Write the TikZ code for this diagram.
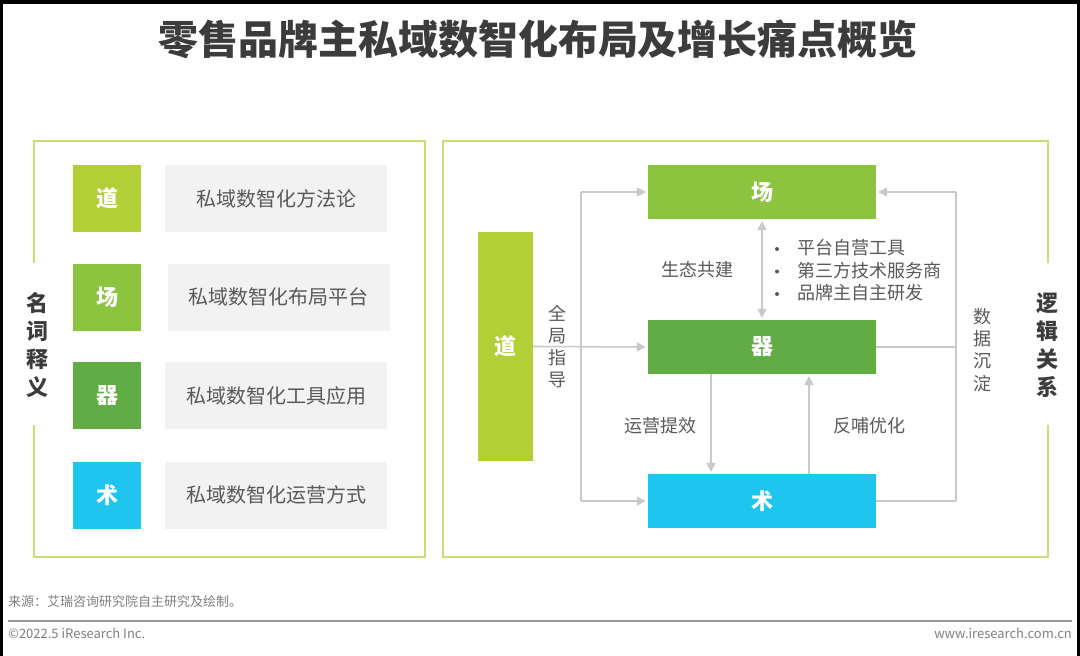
\documentclass[tikz,border=0pt]{standalone}
\usepackage{fontspec}
\setmainfont{Noto Sans CJK SC}
\usetikzlibrary{arrows.meta}
\definecolor{frameg}{HTML}{C8DE78}
\definecolor{daoc}{HTML}{B2CF37}
\definecolor{changc}{HTML}{8DC43F}
\definecolor{qic}{HTML}{62AC46}
\definecolor{shuc}{HTML}{1EC6EF}
\definecolor{boxg}{HTML}{F2F2F2}
\definecolor{txtg}{HTML}{595959}
\definecolor{lineg}{HTML}{C9C9C9}
\definecolor{titlec}{HTML}{3C3C3C}
\definecolor{footc}{HTML}{7F7F7F}
\tikzset{
  keybox/.style={inner sep=0pt, minimum width=68pt, minimum height=67pt, text=white, font=\fontsize{22}{22}\selectfont\bfseries},
  descbox/.style={inner sep=0pt, fill=boxg, minimum width=222pt, minimum height=67pt, text=txtg, font=\fontsize{20}{20}\selectfont},
  flowbox/.style={inner sep=0pt, minimum width=228pt, minimum height=54pt, text=white, font=\fontsize{22}{22}\selectfont\bfseries},
  panel/.style={draw=frameg, line width=2pt},
  conn/.style={draw=lineg, line width=1.6pt},
  arr/.style={conn, -{Triangle[length=9pt,width=9pt]}, shorten >=2pt},
  arrb/.style={conn, {Triangle[length=9pt,width=9pt]}-{Triangle[length=9pt,width=9pt]}, shorten >=2pt, shorten <=2pt},
  lbl/.style={text=txtg, font=\fontsize{18}{18}\selectfont, inner sep=0pt},
  bul/.style={circle, fill=txtg, inner sep=0pt, minimum size=4pt},
  vlbl/.style={text=txtg, font=\fontsize{18}{22.3}\selectfont, align=center, inner sep=0pt},
  side/.style={text=titlec, font=\fontsize{22}{28}\selectfont\bfseries, align=center, inner sep=0pt},
  foot/.style={text=footc, font=\fontsize{13}{13}\selectfont, inner sep=0pt}
}
\begin{document}
\begin{tikzpicture}[x=1pt,y=-1pt]
\useasboundingbox (0,0) rectangle (1080,656);
\fill[black] (0,0) rectangle (1080,656);
\fill[white] (3,4) rectangle (1077,656);
% title
\node[text=titlec, font=\fontsize{40}{40}\selectfont\bfseries, inner sep=0pt] (title) at (538,39) {零售品牌主私域数智化布局及增长痛点概览};
% left panel
\draw[panel] (34,263) -- (34,141) -- (425,141) -- (425,557) -- (34,557) -- (34,425);
\node[side] (mcsy) at (37,345) {名\\词\\释\\义};
\node[keybox, fill=daoc] (k1) at (107,198.5) {道};
\node[keybox, fill=changc] (k2) at (107,297) {场};
\node[keybox, fill=qic] (k3) at (107,395.5) {器};
\node[keybox, fill=shuc] (k4) at (107,495) {术};
\node[descbox] (d1) at (276,198.5) {私域数智化方法论};
\node[descbox] (d2) at (278.5,297) {私域数智化布局平台};
\node[descbox] (d3) at (276,395.5) {私域数智化工具应用};
\node[descbox] (d4) at (276,495) {私域数智化运营方式};
% right panel
\draw[panel] (1048,263) -- (1048,141) -- (443,141) -- (443,557) -- (1048,557) -- (1048,425);
\node[side] (ljgx) at (1047,345) {逻\\辑\\关\\系};
\node[inner sep=0pt, fill=daoc, minimum width=55pt, minimum height=229pt, text=white, font=\fontsize{22}{22}\selectfont\bfseries] (dao) at (505.5,346.5) {道};
\node[flowbox, fill=changc] (chang) at (762,192) {场};
\node[flowbox, fill=qic] (qi) at (762,347) {器};
\node[flowbox, fill=shuc] (shu) at (762,501) {术};
\coordinate (lt) at (581,192);
\coordinate (lb) at (581,501);
\coordinate (rt) at (956,192);
\coordinate (rb) at (956,501);
\draw[conn] (lb) -- (lt);
\draw[arr] (lt) -- (chang.west);
\draw[arr] (lb) -- (shu.west);
\draw[arr] (dao.east) -- (qi.west);
\draw[conn] (rb) -- (rt);
\draw[arr] (rt) -- (chang.east);
\draw[conn] (qi.east) -- (qi.east -| rt);
\draw[conn] (shu.east) -- (rb);
\draw[arrb] (chang.south) -- (qi.north);
\draw[arr] ([xshift=-51pt]qi.south) -- ([xshift=-51pt]shu.north);
\draw[arr] ([xshift=47pt]shu.north) -- ([xshift=47pt]qi.south);
\node[vlbl] (qjzd) at (557,346.5) {全\\局\\指\\导};
\node[vlbl] (sjcd) at (982,350) {数\\据\\沉\\淀};
\node[lbl] (stgj) at (697,270) {生态共建};
\node[bul] (b1) at (777,249) {};
\node[bul] (b2) at (777,271.5) {};
\node[bul] (b3) at (777,294) {};
\node[lbl, anchor=west] (t1) at (797,248) {平台自营工具};
\node[lbl, anchor=west] (t2) at (797,270.5) {第三方技术服务商};
\node[lbl, anchor=west] (t3) at (797,293) {品牌主自主研发};
\node[lbl] (yytx) at (660,426) {运营提效};
\node[lbl] (fbyh) at (869,426) {反哺优化};
% footer
\node[foot, anchor=west] (src) at (8,602) {来源：艾瑞咨询研究院自主研究及绘制。};
\draw[draw=footc!80, line width=1.5pt] (8,621) -- (1072,621);
\node[foot, anchor=west] (copy) at (8,633) {©2022.5 iResearch Inc.};
\node[foot, anchor=east] (web) at (1072,633) {www.iresearch.com.cn};
\end{tikzpicture}
\end{document}
